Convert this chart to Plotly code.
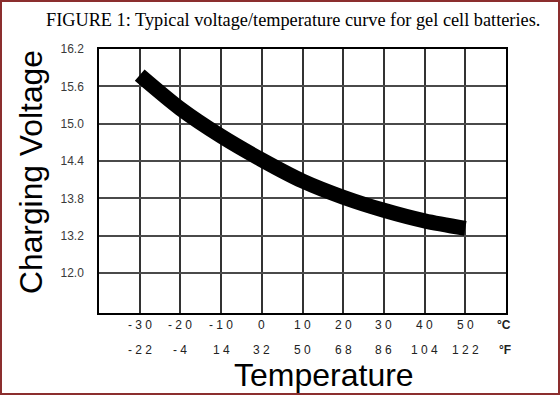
import plotly.graph_objects as go

# ---- data ----
temp_c = [-30, -20, -10, 0, 10, 20, 30, 40, 50]
temp_f = [-22, -4, 14, 32, 50, 68, 86, 104, 122]
voltage = [15.78, 15.24, 14.80, 14.42, 14.08, 13.82, 13.61, 13.44, 13.32]
y_tickvals = [16.2, 15.6, 15.0, 14.4, 13.8, 13.2, 12.6]
y_ticktext = ["16.2", "15.6", "15.0", "14.4", "13.8", "13.2", "12.0"]
title_text = "FIGURE 1: Typical voltage/temperature curve for gel cell batteries."
y_title = "Charging Voltage"
x_title = "Temperature"

W, H = 560, 395
L, R, T, B = 99, 54, 49, 82
pw, ph = W - L - R, H - T - B

def px(xp):
    return (xp - L) / pw

def py(yp):
    return 1 - (yp - T) / ph

def spaced(v):
    return " ".join(str(v))

fig = go.Figure()
fig.add_trace(go.Scatter(
    x=temp_c, y=voltage, mode="lines",
    line=dict(color="black", width=15, shape="spline", smoothing=0.8),
    hoverinfo="skip", showlegend=False,
))

grid = "#4a4a4a"
fig.update_xaxes(
    range=[-40, 60], tickvals=temp_c, showticklabels=False,
    showgrid=True, gridcolor="#333", gridwidth=1.5,
    showline=True, linecolor="black", linewidth=1.5, mirror=True,
    zeroline=False, fixedrange=True,
)
fig.update_yaxes(
    range=[11.96, 16.2], tickvals=y_tickvals, ticktext=y_ticktext,
    showgrid=True, gridcolor=grid, gridwidth=1.5,
    showline=True, linecolor="black", linewidth=1.5, mirror=True,
    zeroline=False, ticks="", ticklabelstandoff=11,
    tickfont=dict(family="Liberation Sans, Arial", size=12, color="#3a3a3a"),
    fixedrange=True,
)

tfont = dict(family="Liberation Sans, Arial", size=12, color="#222")
anns = []
for c, f in zip(temp_c, temp_f):
    anns.append(dict(x=c, y=py(325), xref="x", yref="paper", text=spaced(c),
                     xanchor="center", yanchor="middle", showarrow=False, font=tfont))
    anns.append(dict(x=c, y=py(350), xref="x", yref="paper", text=spaced(f),
                     xanchor="center", yanchor="middle", showarrow=False, font=tfont))
anns.append(dict(x=px(504), y=py(325), xref="paper", yref="paper", text="<b>°C</b>",
                 xanchor="center", yanchor="middle", showarrow=False, font=tfont))
anns.append(dict(x=px(505), y=py(350), xref="paper", yref="paper", text="<b>°F</b>",
                 xanchor="center", yanchor="middle", showarrow=False, font=tfont))
anns.append(dict(x=px(324), y=py(375), xref="paper", yref="paper", text=x_title,
                 xanchor="center", yanchor="middle", showarrow=False,
                 font=dict(family="Liberation Sans, Arial", size=32, color="black")))
anns.append(dict(x=px(31), y=py(172), xref="paper", yref="paper", text=y_title, textangle=-90,
                 xanchor="center", yanchor="middle", showarrow=False,
                 font=dict(family="Liberation Sans, Arial", size=31.8, color="black")))
anns.append(dict(x=px(293), y=py(20), xref="paper", yref="paper", text=title_text,
                 xanchor="center", yanchor="middle", showarrow=False,
                 font=dict(family="Liberation Serif, Times New Roman", size=18.3, color="black")))

fig.update_layout(
    width=W, height=H,
    margin=dict(l=L, r=R, t=T, b=B),
    paper_bgcolor="white", plot_bgcolor="white",
    annotations=anns,
    shapes=[dict(type="rect", xref="paper", yref="paper",
                 x0=px(1), x1=px(559), y0=py(394), y1=py(1),
                 line=dict(color="#8b2e2e", width=2), fillcolor="rgba(0,0,0,0)", layer="above")],
)

fig.write_html("out.html", config={"displayModeBar": False},
               post_script="document.body.style.margin='0';document.body.style.overflow='hidden';")
